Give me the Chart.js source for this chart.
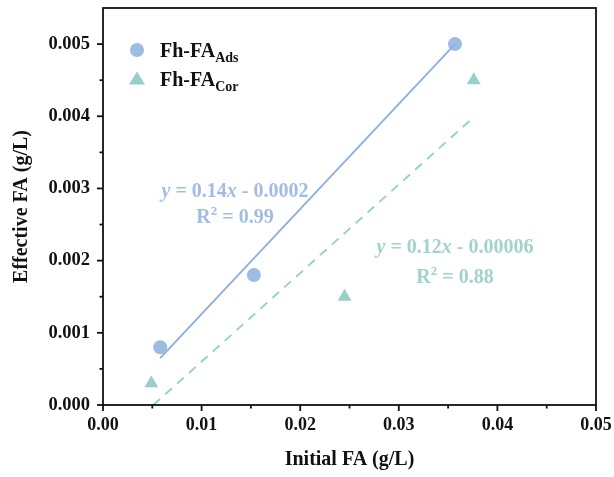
<!DOCTYPE html>
<html>
<head>
<meta charset="utf-8">
<script src="https://cdn.jsdelivr.net/npm/chart.js@4.4.1/dist/chart.umd.min.js"></script>
<style>
    html, body { margin: 0; padding: 0; background: #ffffff; }
    #wrap { width: 614px; height: 477px; }
</style>
</head>
<body>
<div id="wrap"><canvas id="fhChart" width="614" height="477"></canvas></div>
<script>
/* Data */

const adsInitial = [0.0058, 0.0153, 0.0357];
const adsEffective = [0.0008, 0.0018, 0.0050];

const corInitial = [0.0049, 0.0245, 0.0376];
const corEffective = [0.0003, 0.0015, 0.0045];

const adsFitX = [0.0058, 0.0357];
const adsFitY = [0.00065, 0.0050];

const corFitX = [0.0051, 0.0377];
const corFitY = [0.0000, 0.0040];

const seriesNames = ["Fh-FA", "Fh-FA"];
const seriesSubs = ["Ads", "Cor"];

const adsEquation = ["0.14", " - 0.0002", "0.99"];
const corEquation = ["0.12", " - 0.00006", "0.88"];

const adsColor = "#9dbce2";
const corColor = "#97d0c9";
const adsLineColor = "#8fb0dc";
const adsTextColor = "#a1bde2";
const corTextColor = "#a0d3cd";

const serif = "'Liberation Serif', 'Times New Roman', serif";

const toPoints = (xs, ys) => xs.map((x, i) => ({ x: x, y: ys[i] }));

const isMajor = (v, step) => Math.abs(v / step - Math.round(v / step)) < 1e-6;

const fixBox = (scale, w, h) => {
    if (w) scale.width = w;
    if (h) scale.height = h;
    scale.paddingLeft = 0;
    scale.paddingRight = 0;
    scale.paddingTop = 0;
    scale.paddingBottom = 0;
};

/* Ticks, frame, legend and fit labels */

const decorPlugin = {
    id: "decor",
    afterDraw(chart) {
        const ctx = chart.ctx;
        const area = chart.chartArea;
        const xScale = chart.scales.x;
        const yScale = chart.scales.y;

        ctx.save();
        ctx.strokeStyle = "#111111";
        ctx.lineWidth = 1.8;
        ctx.strokeRect(area.left, area.top, area.right - area.left, area.bottom - area.top);

        xScale.ticks.forEach(t => {
            const px = xScale.getPixelForValue(t.value);
            const len = isMajor(t.value, 0.01) ? 6 : 3.5;
            ctx.beginPath();
            ctx.moveTo(px, area.bottom);
            ctx.lineTo(px, area.bottom + len);
            ctx.stroke();
        });

        yScale.ticks.forEach(t => {
            if (t.value > 0.00501) return;
            const py = yScale.getPixelForValue(t.value);
            const len = isMajor(t.value, 0.001) ? 6 : 3.5;
            ctx.beginPath();
            ctx.moveTo(area.left, py);
            ctx.lineTo(area.left - len, py);
            ctx.stroke();
        });

        // legend
        const legendX = area.left + 34;
        const legendRows = [area.top + 42, area.top + 71];
        ctx.fillStyle = adsColor;
        ctx.beginPath();
        ctx.arc(legendX, legendRows[0], 7, 0, Math.PI * 2);
        ctx.fill();
        ctx.fillStyle = corColor;
        ctx.beginPath();
        ctx.moveTo(legendX, legendRows[1] - 7.5);
        ctx.lineTo(legendX + 8, legendRows[1] + 5.5);
        ctx.lineTo(legendX - 8, legendRows[1] + 5.5);
        ctx.closePath();
        ctx.fill();

        ctx.fillStyle = "#111111";
        ctx.textBaseline = "alphabetic";
        ctx.textAlign = "left";
        legendRows.forEach((rowY, i) => {
            ctx.font = "bold 20px " + serif;
            const textX = legendX + 23;
            ctx.fillText(seriesNames[i], textX, rowY + 7);
            const w = ctx.measureText(seriesNames[i]).width;
            ctx.font = "bold 14px " + serif;
            ctx.fillText(seriesSubs[i], textX + w, rowY + 12);
        });

        // fit equations
        drawEquation(ctx, xScale.getPixelForValue(0.01339), yScale.getPixelForValue(0.00295),
            yScale.getPixelForValue(0.00259), adsEquation, adsTextColor);
        drawEquation(ctx, xScale.getPixelForValue(0.0357), yScale.getPixelForValue(0.002175),
            yScale.getPixelForValue(0.00176), corEquation, corTextColor);

        ctx.restore();
    }
};

function drawEquation(ctx, cx, y1, y2, parts, color) {
    const size = 20;
    const segments = [
        { text: "y", style: "italic bold" },
        { text: " = " + parts[0], style: "bold" },
        { text: "x", style: "italic bold" },
        { text: parts[1], style: "bold" }
    ];
    ctx.fillStyle = color;
    ctx.textBaseline = "middle";
    ctx.textAlign = "left";
    let total = 0;
    segments.forEach(s => {
        ctx.font = s.style + " " + size + "px " + serif;
        s.width = ctx.measureText(s.text).width;
        total += s.width;
    });
    let x = cx - total / 2;
    segments.forEach(s => {
        ctx.font = s.style + " " + size + "px " + serif;
        ctx.fillText(s.text, x, y1);
        x += s.width;
    });

    ctx.font = "bold " + size + "px " + serif;
    const rW = ctx.measureText("R").width;
    const rest = " = " + parts[2];
    const restW = ctx.measureText(rest).width;
    ctx.font = "bold 13px " + serif;
    const supW = ctx.measureText("2").width;
    let rx = cx - (rW + supW + restW) / 2;
    ctx.font = "bold " + size + "px " + serif;
    ctx.fillText("R", rx, y2);
    ctx.font = "bold 13px " + serif;
    ctx.fillText("2", rx + rW, y2 - 6);
    ctx.font = "bold " + size + "px " + serif;
    ctx.fillText(rest, rx + rW + supW, y2);
}

/* Chart */

new Chart(document.querySelector("#fhChart"), {
    type: "scatter",
    data: {
        datasets: [
            {
                label: "Ads fit",
                type: "line",
                data: toPoints(adsFitX, adsFitY),
                borderColor: adsLineColor,
                borderWidth: 1.9,
                pointRadius: 0,
                fill: false
            },
            {
                label: "Cor fit",
                type: "line",
                data: toPoints(corFitX, corFitY),
                borderColor: corColor,
                borderWidth: 1.9,
                borderDash: [9, 7],
                pointRadius: 0,
                fill: false
            },
            {
                label: "Fh-FA Ads",
                data: toPoints(adsInitial, adsEffective),
                backgroundColor: adsColor,
                borderColor: adsColor,
                pointStyle: "circle",
                pointRadius: 7,
                borderWidth: 0
            },
            {
                label: "Fh-FA Cor",
                data: toPoints(corInitial, corEffective),
                backgroundColor: corColor,
                borderColor: corColor,
                pointStyle: "triangle",
                pointRadius: 8,
                borderWidth: 0
            }
        ]
    },
    options: {
        responsive: false,
        animation: false,
        layout: {
            padding: { left: 0, right: 18, top: 7, bottom: 0 }
        },
        plugins: {
            legend: { display: false },
            tooltip: { enabled: false }
        },
        scales: {
            x: {
                type: "linear",
                min: 0,
                max: 0.05,
                afterFit: scale => fixBox(scale, 0, 72),
                grid: { display: false, drawTicks: false },
                border: { display: false },
                ticks: {
                    stepSize: 0.005,
                    padding: 10,
                    maxRotation: 0,
                    autoSkip: false,
                    color: "#111111",
                    font: { family: serif, size: 18, weight: "bold" },
                    callback: v => isMajor(v, 0.01) ? v.toFixed(2) : ""
                },
                title: {
                    display: true,
                    text: "Initial FA (g/L)",
                    color: "#111111",
                    padding: { top: 0, bottom: 5 },
                    font: { family: serif, size: 20, weight: "bold" }
                }
            },
            y: {
                type: "linear",
                min: 0,
                max: 0.0055,
                afterFit: scale => fixBox(scale, 103, 0),
                grid: { display: false, drawTicks: false },
                border: { display: false },
                ticks: {
                    stepSize: 0.0005,
                    padding: 13,
                    autoSkip: false,
                    color: "#111111",
                    font: { family: serif, size: 18.5, weight: "bold" },
                    callback: v => (isMajor(v, 0.001) && v < 0.00501) ? v.toFixed(3) : ""
                },
                title: {
                    display: true,
                    text: "Effective FA (g/L)",
                    color: "#111111",
                    padding: { top: 10, bottom: 0 },
                    font: { family: serif, size: 20, weight: "bold" }
                }
            }
        }
    },
    plugins: [decorPlugin]
});
</script>
</body>
</html>
